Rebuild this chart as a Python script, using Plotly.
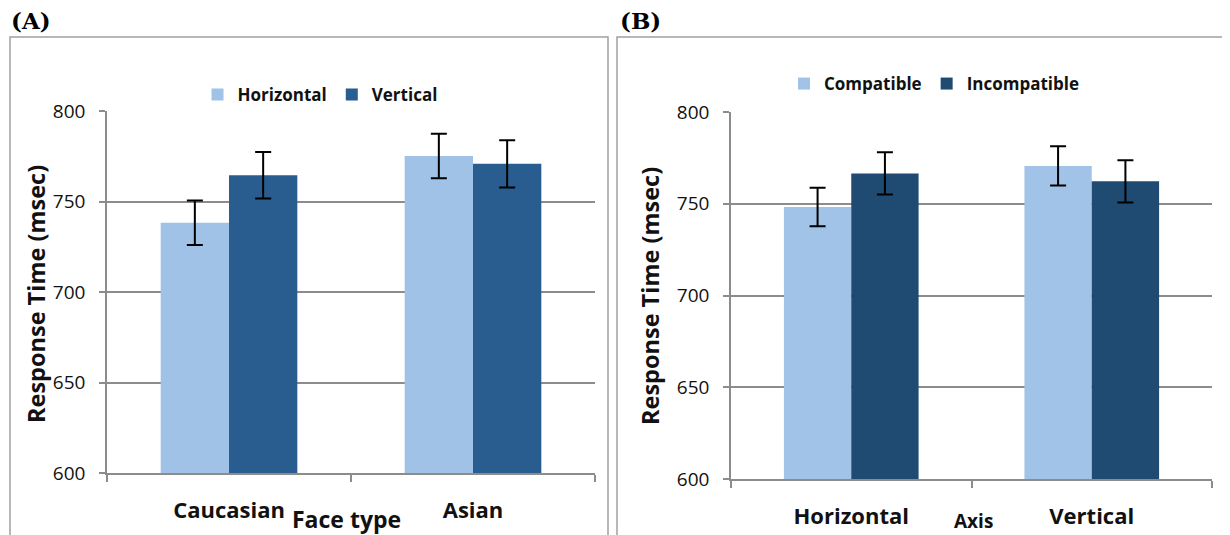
import plotly.graph_objects as go

# Panel A data
a_categories = ["Caucasian", "Asian"]
a_horizontal = [738.2, 775.2]
a_horizontal_err = [12.3, 12.3]
a_vertical = [764.5, 770.8]
a_vertical_err = [12.8, 13.0]

# Panel B data
b_categories = ["Horizontal", "Vertical"]
b_compatible = [748.2, 770.6]
b_compatible_err = [10.5, 10.7]
b_incompatible = [766.5, 762.2]
b_incompatible_err = [11.5, 11.5]

y_ticks = [600, 650, 700, 750, 800]

W, H = 1230, 535
OFF = 8  # page body margin offset
def px(x):
    return (x - OFF) / W
def py(y):
    return (H - (y - OFF)) / H

light_a = "#A1C2E7"
dark_a = "#2A5D8F"
light_b = "#A2C3E8"
dark_b = "#1F4A71"

fig = go.Figure()
err_style = dict(type="data", color="black", thickness=2, width=8, visible=True)

fig.add_trace(go.Bar(x=a_categories, y=a_horizontal, name="Horizontal", marker_color=light_a,
                     error_y=dict(array=a_horizontal_err, **err_style),
                     xaxis="x", yaxis="y", legend="legend", marker_line_width=0))
fig.add_trace(go.Bar(x=a_categories, y=a_vertical, name="Vertical", marker_color=dark_a,
                     error_y=dict(array=a_vertical_err, **err_style),
                     xaxis="x", yaxis="y", legend="legend", marker_line_width=0))
fig.add_trace(go.Bar(x=b_categories, y=b_compatible, name="Compatible", marker_color=light_b,
                     error_y=dict(array=b_compatible_err, **err_style),
                     xaxis="x2", yaxis="y2", legend="legend2", marker_line_width=0))
fig.add_trace(go.Bar(x=b_categories, y=b_incompatible, name="Incompatible", marker_color=dark_b,
                     error_y=dict(array=b_incompatible_err, **err_style),
                     xaxis="x2", yaxis="y2", legend="legend2", marker_line_width=0))

font_fam = "'Open Sans', sans-serif"
grid_col = "#8C8C8C"

yaxis_common = dict(range=[600, 800], tickvals=y_ticks, showgrid=True, gridcolor=grid_col, gridwidth=1.5,
                    showline=True, linecolor=grid_col, linewidth=1.5, ticks="outside", ticklen=6,
                    tickcolor=grid_col, tickwidth=1.5, zeroline=False, automargin=False,
                    ticklabelstandoff=10,
                    tickfont=dict(family=font_fam, size=19, color="#111"), fixedrange=True)
xaxis_common = dict(showline=True, linecolor=grid_col, linewidth=1.5, ticks="outside", ticklen=7,
                    tickcolor=grid_col, tickwidth=1.5, tickson="boundaries", showgrid=False,
                    automargin=False,
                    tickfont=dict(family=font_fam, size=22, color="#111", weight="bold"),
                    ticklabelstandoff=17, fixedrange=True)

legend_font = dict(family=font_fam, size=17, color="#111", weight="bold")

fig.update_layout(
    width=W, height=H,
    margin=dict(l=0, r=0, t=0, b=0, autoexpand=False),
    paper_bgcolor="white", plot_bgcolor="white",
    barmode="group", bargap=0.44, bargroupgap=0,
    xaxis=dict(domain=[px(107), px(595)], anchor="y", **xaxis_common),
    yaxis=dict(domain=[py(473), py(111)], anchor="x", **yaxis_common),
    xaxis2=dict(domain=[px(731), px(1212)], anchor="y2", **xaxis_common),
    yaxis2=dict(domain=[py(479), py(112)], anchor="x2", **yaxis_common),
    legend=dict(orientation="h", x=px(320), y=py(95), xanchor="center", yanchor="middle",
                font=legend_font, itemwidth=30, bgcolor="rgba(0,0,0,0)"),
    legend2=dict(orientation="h", x=px(934), y=py(84), xanchor="center", yanchor="middle",
                 font=legend_font, itemwidth=30, bgcolor="rgba(0,0,0,0)"),
    showlegend=True,
)

# Panel frames
fig.add_shape(type="rect", xref="paper", yref="paper", x0=px(10), x1=px(608), y0=py(545), y1=py(37),
              line=dict(color="#A0A0A0", width=1.5), layer="below")
fig.add_shape(type="rect", xref="paper", yref="paper", x0=px(617), x1=px(1228), y0=py(545), y1=py(37),
              line=dict(color="#A0A0A0", width=1.5), layer="below")

ann_font_label = dict(family="'DejaVu Serif', serif", size=23, color="black", weight="bold")
fig.add_annotation(text="(A)", x=px(9), y=py(20), xref="paper", yref="paper", xanchor="left",
                   yanchor="middle", showarrow=False, font=ann_font_label)
fig.add_annotation(text="(B)", x=px(618), y=py(20), xref="paper", yref="paper", xanchor="left",
                   yanchor="middle", showarrow=False, font=ann_font_label)

title_font = dict(family=font_fam, size=23.5, color="#111", weight="bold")
fig.add_annotation(text="Response Time (msec)", x=px(36), y=py(294), xref="paper", yref="paper",
                   textangle=-90, showarrow=False, font=title_font, xanchor="center", yanchor="middle")
fig.add_annotation(text="Response Time (msec)", x=px(650), y=py(296), xref="paper", yref="paper",
                   textangle=-90, showarrow=False, font=title_font, xanchor="center", yanchor="middle")
fig.add_annotation(text="Face type", x=px(346), y=py(536), xref="paper", yref="paper",
                   showarrow=False, font=dict(family=font_fam, size=23, color="#111", weight="bold"),
                   xanchor="center", yanchor="bottom", borderpad=0)
fig.add_annotation(text="Axis", x=px(973), y=py(535), xref="paper", yref="paper",
                   showarrow=False, font=dict(family=font_fam, size=19, color="#111", weight="bold"),
                   xanchor="center", yanchor="bottom", borderpad=0)

fig.write_html("out.html")
